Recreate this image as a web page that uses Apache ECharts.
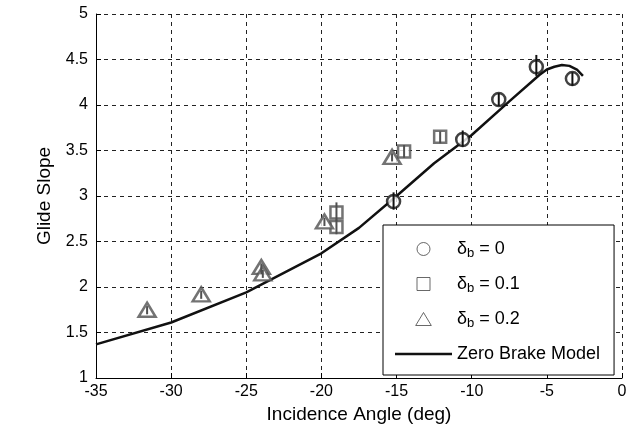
<!DOCTYPE html>
<html>
<head>
<meta charset="utf-8">
<script src="https://cdn.jsdelivr.net/npm/echarts@6/dist/echarts.min.js"></script>
<style>
html,body{margin:0;padding:0;background:#fff;}
#chart{width:636px;height:430px;}
</style>
</head>
<body>
<div id="chart"></div>
<script>
// Data
var circX  = [-15.2, -10.6, -8.2, -5.7, -3.3];
var circY  = [2.94, 3.62, 4.06, 4.42, 4.29];
var circLo = [2.85, 3.54, 3.99, 4.32, 4.21];
var circHi = [3.04, 3.72, 4.13, 4.55, 4.36];

var sqX  = [-19.0, -19.0, -14.5, -12.1];
var sqY  = [2.82, 2.66, 3.49, 3.65];
var sqLo = [2.73, 2.58, 3.42, 3.58];
var sqHi = [2.93, 2.74, 3.56, 3.71];

var triX  = [-31.6, -28.0, -24.0, -23.9, -19.8, -15.3];
var triY  = [1.75, 1.92, 2.22, 2.15, 2.72, 3.43];
var triLo = [1.70, 1.87, 2.14, 2.10, 2.67, 3.38];
var triHi = [1.79, 1.96, 2.26, 2.19, 2.76, 3.47];

var modelX = [-35, -30, -25, -20, -17.5, -15, -12.5, -10, -7.5, -5.5, -5, -4.5, -4, -3.5, -3, -2.6];
var modelY = [1.37, 1.61, 1.94, 2.37, 2.65, 3.0, 3.36, 3.67, 4.04, 4.33, 4.39, 4.42, 4.44, 4.43, 4.39, 4.32];

var xTicks = {min: -35, max: 0, interval: 5};
var yTicks = {min: 1, max: 5, interval: 0.5};

var names = ['δb = 0', 'δb = 0.1', 'δb = 0.2', 'Zero Brake Model'];

function pairs(xs, ys) { return xs.map(function (x, i) { return [x, ys[i]]; }); }
function bars(xs, lo, hi) { return xs.map(function (x, i) { return [x, lo[i], hi[i]]; }); }

var DARK = '#111';
var GRAY = '#505050';

function errSeries(data, color) {
  return {
    type: 'custom',
    silent: true,
    z: 5,
    data: data,
    renderItem: function (params, api) {
      var p1 = api.coord([api.value(0), api.value(1)]);
      var p2 = api.coord([api.value(0), api.value(2)]);
      return {
        type: 'line',
        shape: {x1: p1[0], y1: p1[1], x2: p2[0], y2: p2[1]},
        style: {stroke: color, lineWidth: 2}
      };
    }
  };
}

var chart = echarts.init(document.getElementById('chart'), null, {renderer: 'canvas'});
var grid = {left: 96, right: 14, top: 14, bottom: 52};
var gridLine = {show: true, lineStyle: {color: '#222', type: [4, 4], width: 1}};
var thinIcon = {color: '#fff', borderColor: '#444', borderWidth: 1};

chart.setOption({
  animation: false,
  backgroundColor: '#fff',
  textStyle: {fontFamily: 'Liberation Sans, Arial, sans-serif'},
  grid: grid,
  xAxis: {
    type: 'value', min: xTicks.min, max: xTicks.max, interval: xTicks.interval,
    name: 'Incidence Angle (deg)', nameLocation: 'middle', nameGap: 23,
    nameTextStyle: {fontSize: 19, color: '#000'},
    axisLine: {show: true, onZero: false, lineStyle: {color: '#000', width: 1}},
    axisTick: {show: true, inside: true, length: 5, lineStyle: {color: '#000'}},
    axisLabel: {fontSize: 16, color: '#000', margin: 6},
    splitLine: gridLine
  },
  yAxis: {
    type: 'value', min: yTicks.min, max: yTicks.max, interval: yTicks.interval,
    name: 'Glide Slope', nameLocation: 'middle', nameGap: 42,
    nameTextStyle: {fontSize: 19, color: '#000'},
    axisLine: {show: true, onZero: false, lineStyle: {color: '#000', width: 1}},
    axisTick: {show: true, inside: true, length: 5, lineStyle: {color: '#000'}},
    axisLabel: {fontSize: 16, color: '#000', margin: 8},
    splitLine: gridLine
  },
  legend: {
    orient: 'vertical',
    left: 383, top: 225,
    padding: [15, 14, 12, 12],
    itemGap: 15,
    itemWidth: 57, itemHeight: 13,
    symbolKeepAspect: true,
    backgroundColor: '#fff',
    borderColor: '#000', borderWidth: 1,
    textStyle: {fontSize: 18, color: '#000',
      rich: {
        a: {fontSize: 18, color: '#000'},
        s: {fontSize: 13, color: '#000', padding: [9, 0, 0, 0]}
      }
    },
    formatter: function (n) {
      if (n.indexOf('δb') === 0) {
        return '{a|δ}{s|b}{a|' + n.slice(2) + '}';
      }
      return n;
    },
    data: [
      {name: names[0], icon: 'circle', itemStyle: thinIcon},
      {name: names[1], icon: 'path://M0,0L10,0L10,10L0,10Z', itemStyle: thinIcon},
      {name: names[2], icon: 'path://M6,0L12,10L0,10Z', itemStyle: thinIcon},
      {name: names[3], icon: 'path://M0,0L60,0L60,2.8L0,2.8Z', itemStyle: {color: '#111', borderWidth: 0}}
    ]
  },
  series: [
    {
      name: names[3], type: 'line', data: pairs(modelX, modelY),
      showSymbol: false, symbol: 'none', smooth: false, z: 3,
      lineStyle: {color: '#111', width: 2.5}, itemStyle: {color: '#111'}
    },
    {
      name: names[0], type: 'scatter', data: pairs(circX, circY), z: 4,
      symbol: 'circle', symbolSize: 13,
      itemStyle: {color: '#fff', borderColor: DARK, borderWidth: 2.5}
    },
    {
      name: names[1], type: 'scatter', data: pairs(sqX, sqY), z: 4,
      symbol: 'rect', symbolSize: 12,
      itemStyle: {color: '#fff', borderColor: GRAY, borderWidth: 2.5}
    },
    {
      name: names[2], type: 'scatter', data: pairs(triX, triY), z: 4,
      symbol: 'triangle', symbolSize: [17, 14],
      itemStyle: {color: '#fff', borderColor: GRAY, borderWidth: 2.5}
    },
    errSeries(bars(circX, circLo, circHi), DARK),
    errSeries(bars(sqX, sqLo, sqHi), GRAY),
    errSeries(bars(triX, triLo, triHi), GRAY)
  ]
});
</script>
</body>
</html>
